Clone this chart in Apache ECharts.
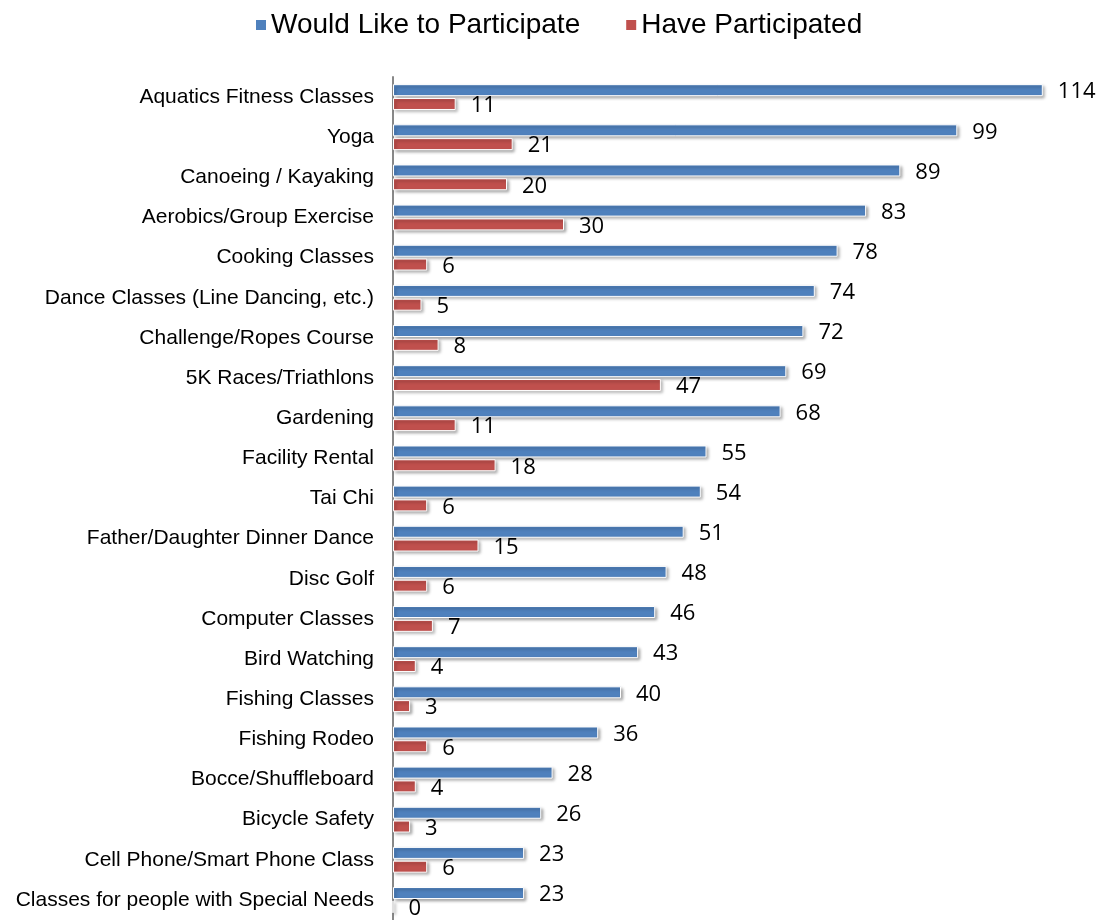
<!DOCTYPE html>
<html>
<head>
<meta charset="utf-8">
<script src="https://cdn.jsdelivr.net/npm/echarts@6/dist/echarts.min.js"></script>
<style>
  html, body { margin: 0; padding: 0; background: #fff; }
  #chart { width: 1099px; height: 920px; }
</style>
</head>
<body>
<div id="chart"></div>
<script>
// Program categories, listed top to bottom
const categories = [
  'Aquatics Fitness Classes',
  'Yoga',
  'Canoeing / Kayaking',
  'Aerobics/Group Exercise',
  'Cooking Classes',
  'Dance Classes (Line Dancing, etc.)',
  'Challenge/Ropes Course',
  '5K Races/Triathlons',
  'Gardening',
  'Facility Rental',
  'Tai Chi',
  'Father/Daughter Dinner Dance',
  'Disc Golf',
  'Computer Classes',
  'Bird Watching',
  'Fishing Classes',
  'Fishing Rodeo',
  'Bocce/Shuffleboard',
  'Bicycle Safety',
  'Cell Phone/Smart Phone Class',
  'Classes for people with Special Needs'
];

const wouldLike = [114, 99, 89, 83, 78, 74, 72, 69, 68, 55, 54, 51, 48, 46, 43, 40, 36, 28, 26, 23, 23];
const haveParticipated = [11, 21, 20, 30, 6, 5, 8, 47, 11, 18, 6, 15, 6, 7, 4, 3, 6, 4, 3, 6, 0];

const seriesNames = ['Would Like to Participate', 'Have Participated'];
const seriesColors = ['#4F81BD', '#C0504D'];

const chart = echarts.init(document.getElementById('chart'));

function barSeries(name, data, color) {
  return {
    name: name,
    type: 'bar',
    data: data,
    barWidth: 12,
    barGap: '15%',
    itemStyle: {
      color: color,
      borderColor: '#ffffff',
      borderWidth: 1,
      shadowColor: 'rgba(0,0,0,0.35)',
      shadowBlur: 3,
      shadowOffsetX: 2,
      shadowOffsetY: 2
    },
    label: {
      show: true,
      position: 'right',
      distance: 15,
      offset: [0, 2],
      color: '#000',
      fontFamily: 'Open Sans',
      fontSize: 22
    },
    emphasis: { disabled: true },
    animation: false
  };
}

chart.setOption({
  backgroundColor: '#ffffff',
  animation: false,
  legend: {
    top: 6,
    left: 251,
    itemWidth: 10,
    itemHeight: 10,
    itemGap: 46,
    icon: 'rect',
    itemStyle: { borderWidth: 0, shadowBlur: 0, shadowOffsetX: 0, shadowOffsetY: 0 },
    textStyle: { fontFamily: 'Liberation Sans', fontSize: 28, color: '#000' },
    data: seriesNames
  },
  grid: {
    left: 393,
    top: 77,
    width: 684,
    height: 847,
    containLabel: false
  },
  xAxis: {
    type: 'value',
    min: 0,
    max: 120,
    show: false,
    splitLine: { show: false }
  },
  yAxis: {
    type: 'category',
    inverse: true,
    data: categories,
    axisLine: { show: true, lineStyle: { color: '#888888', width: 2 } },
    axisTick: { show: false },
    axisLabel: {
      margin: 19,
      color: '#000',
      fontFamily: 'Liberation Sans',
      fontSize: 21
    }
  },
  series: [
    barSeries(seriesNames[0], wouldLike, seriesColors[0]),
    barSeries(seriesNames[1], haveParticipated, seriesColors[1])
  ]
});
</script>
</body>
</html>
